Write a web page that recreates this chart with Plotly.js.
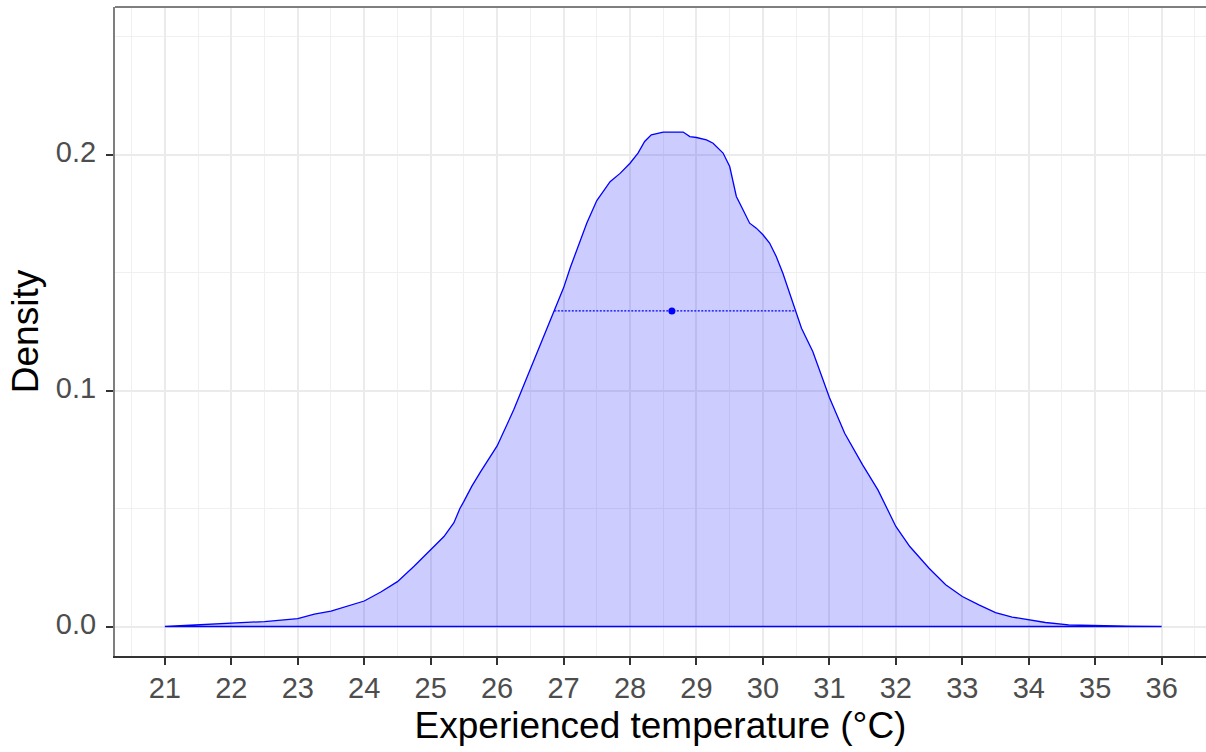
<!DOCTYPE html>
<html>
<head>
<meta charset="utf-8">
<script src="https://cdn.plot.ly/plotly-3.0.1.min.js"></script>
<style>html,body{margin:0;padding:0;background:#fff;overflow:hidden}#chart{width:1206px;height:752px}</style>
</head>
<body>
<div id="chart"></div>
<script>
// Density curve
var densX = [21.0, 21.5, 22.0, 22.5, 23.0, 23.25, 23.5, 23.75, 24.0, 24.25, 24.5, 24.75, 25.0, 25.2, 25.35, 25.44, 25.5, 25.62, 25.75, 26.0, 26.25, 26.5, 26.75, 27.0, 27.1, 27.25, 27.35, 27.5, 27.7, 27.85, 28.0, 28.12, 28.22, 28.32, 28.5, 28.8, 28.9, 29.0, 29.15, 29.25, 29.4, 29.5, 29.6, 29.7, 29.8, 29.9, 30.0, 30.1, 30.2, 30.3, 30.4, 30.5, 30.58, 30.75, 31.0, 31.23, 31.5, 31.73, 32.0, 32.21, 32.5, 32.75, 33.0, 33.25, 33.5, 33.75, 34.0, 34.25, 34.6, 35.0, 35.5, 36.0];
var densY = [0.0000, 0.0008, 0.0013, 0.0021, 0.0033, 0.0052, 0.0065, 0.0088, 0.0108, 0.0146, 0.0190, 0.0255, 0.0323, 0.0381, 0.0440, 0.0500, 0.0530, 0.0595, 0.0655, 0.0765, 0.0918, 0.1090, 0.1265, 0.1435, 0.1520, 0.1635, 0.1710, 0.1805, 0.1885, 0.1920, 0.1963, 0.2006, 0.2055, 0.2083, 0.2095, 0.2095, 0.2076, 0.2072, 0.2062, 0.2048, 0.2006, 0.1949, 0.1822, 0.1766, 0.1709, 0.1688, 0.1660, 0.1625, 0.1568, 0.1497, 0.1413, 0.1335, 0.1264, 0.1165, 0.0970, 0.0819, 0.0685, 0.0579, 0.0424, 0.0339, 0.0247, 0.0177, 0.0127, 0.0092, 0.0059, 0.0040, 0.0027, 0.0017, 0.0007, 0.0004, 0.0002, 0.0000];
// Interval (dotted) and central point
var intervalX = [26.86, 30.49];
var intervalY = [0.1337, 0.1337];
var pointX = [28.63];
var pointY = [0.1337];
// Axis ticks
var xTicks = [21, 22, 23, 24, 25, 26, 27, 28, 29, 30, 31, 32, 33, 34, 35, 36];
var yTicks = [0.0, 0.1, 0.2];
var yTickText = ['0.0', '0.1', '0.2'];

var polyX = densX.concat([densX[0]]);
var polyY = densY.concat([densY[0]]);

var traces = [
  {x: polyX, y: polyY, type: 'scatter', mode: 'lines', fill: 'toself',
   fillcolor: 'rgba(0,0,255,0.2)', line: {color: '#0000ff', width: 1.3}, hoverinfo: 'skip'},
  {x: intervalX, y: intervalY, type: 'scatter', mode: 'lines',
   line: {color: '#0000ff', width: 1.3, dash: '2px,1.5px'}},
  {x: pointX, y: pointY, type: 'scatter', mode: 'markers',
   marker: {color: '#0000ff', size: 7}}
];

var font = 'Liberation Sans, Arial, sans-serif';
var layout = {
  width: 1206, height: 752,
  margin: {l: 115, r: 0, t: 7, b: 96},
  paper_bgcolor: '#ffffff', plot_bgcolor: '#ffffff',
  showlegend: false,
  font: {family: font},
  xaxis: {
    range: [20.25, 36.667], tickmode: 'array', tickvals: xTicks, ticktext: xTicks.map(String),
    ticks: 'outside', ticklen: 7, tickwidth: 2, tickcolor: '#333333',
    showline: true, linecolor: '#333333', linewidth: 2,
    showgrid: true, gridcolor: '#ebebeb', gridwidth: 2, zeroline: false,
    minor: {tick0: 20.5, dtick: 1, showgrid: true, gridcolor: '#f0f0f0', gridwidth: 1, ticks: ''},
    tickfont: {family: font, size: 29, color: '#4d4d4d'},
    ticklabelstandoff: -2,
    title: {text: 'Experienced temperature (°C)', font: {family: font, size: 37, color: '#000000'}, standoff: 9},
    automargin: false, fixedrange: true
  },
  yaxis: {
    range: [-0.0125, 0.2625], tickmode: 'array', tickvals: yTicks, ticktext: yTickText,
    ticks: 'outside', ticklen: 7, tickwidth: 2, tickcolor: '#333333',
    showline: true, linecolor: '#7f7f7f', linewidth: 2,
    showgrid: true, gridcolor: '#ebebeb', gridwidth: 2, zeroline: false,
    minor: {tick0: 0.05, dtick: 0.1, showgrid: true, gridcolor: '#f0f0f0', gridwidth: 1, ticks: ''},
    tickfont: {family: font, size: 29, color: '#4d4d4d'},
    ticklabelstandoff: 4,
    ticklabelshift: -3,
    title: {text: 'Density', font: {family: font, size: 37, color: '#000000'}, standoff: 6},
    automargin: false, fixedrange: true
  },
  shapes: [
    {type: 'line', xref: 'paper', yref: 'paper', x0: 0, x1: 1, y0: 1, y1: 1,
     line: {color: '#7f7f7f', width: 2}}
  ]
};

Plotly.newPlot('chart', traces, layout, {displayModeBar: false, staticPlot: true});
</script>
</body>
</html>
